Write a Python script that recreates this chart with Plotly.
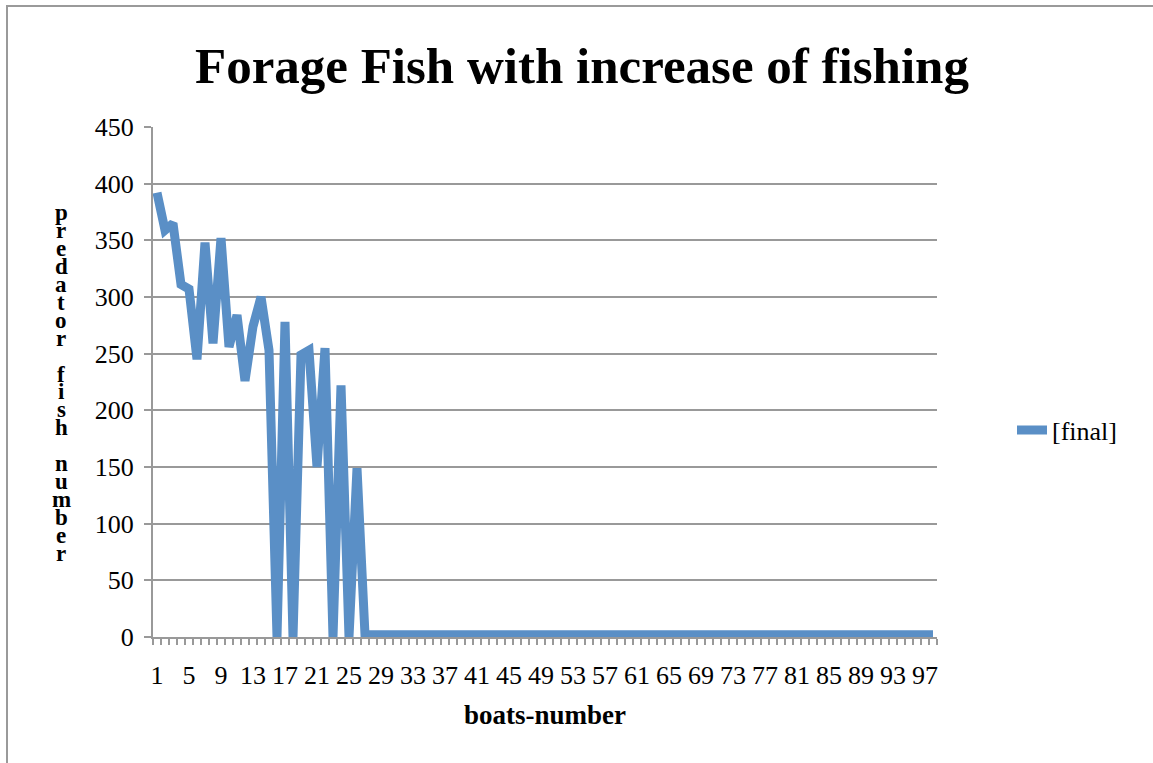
import plotly.graph_objects as go

# boats number (category index) and the final predator fish count for each run
boats = list(range(1, 99))
final_counts = [
    392, 359, 365, 311, 307, 245, 348, 259, 352, 256,
    284, 226, 274, 300, 253, 0, 278, 0, 249, 253,
    150, 255, 0, 222, 0, 149,
] + [2] * 72

x_tick_values = list(range(1, 99, 4))
x_tick_labels = [str(v) for v in x_tick_values]

y_title_text = "predator fish number"

SERIF = "Liberation Serif"
LINE_BLUE = "#5a8fc6"
GRID = "#999999"

fig = go.Figure()
fig.add_trace(go.Scatter(
    x=boats,
    y=final_counts,
    mode="lines",
    name="[final]",
    line=dict(color=LINE_BLUE, width=9, shape="linear"),
    hoverinfo="x+y",
))

W, H = 1153, 763
L, R, T, B = 153, 216, 127, 126
plot_w = W - L - R
plot_h = H - T - B


def px_to_paper_x(px):
    return (px - L) / plot_w


def px_to_paper_y(py):
    return (H - B - py) / plot_h


# vertical stacked-letter axis title
annotations = []
for k, ch in enumerate(y_title_text):
    if ch == " ":
        continue
    annotations.append(dict(
        text=f"<b>{ch}</b>", x=px_to_paper_x(61), y=px_to_paper_y(213 + k * 17.9),
        xref="paper", yref="paper", xanchor="center", yanchor="middle",
        showarrow=False, font=dict(family=SERIF, size=23, color="black"),
    ))

fig.update_layout(
    width=W, height=H,
    margin=dict(l=L, r=R, t=T, b=B, pad=0),
    paper_bgcolor="white",
    plot_bgcolor="white",
    title=dict(
        text="<b>Forage Fish with increase of fishing</b>",
        x=px_to_paper_x(582), xref="paper", xanchor="center",
        y=1 - 65 / H, yanchor="middle",
        font=dict(family=SERIF, size=51, color="black"),
    ),
    showlegend=True,
    legend=dict(
        x=px_to_paper_x(1012), y=px_to_paper_y(430),
        xanchor="left", yanchor="middle",
        font=dict(family=SERIF, size=26, color="black"),
        bgcolor="rgba(0,0,0,0)",
    ),
    annotations=annotations,
    shapes=[dict(
        type="rect", xref="paper", yref="paper",
        x0=px_to_paper_x(7), x1=px_to_paper_x(1170),
        y0=px_to_paper_y(790), y1=px_to_paper_y(6),
        line=dict(color="#9a9a9a", width=2), fillcolor="rgba(0,0,0,0)",
        layer="below",
    )],
)

fig.update_xaxes(
    range=[0.5, 98.5],
    tickmode="array", tickvals=x_tick_values, ticktext=x_tick_labels,
    ticks="",
    minor=dict(ticks="outside", tick0=0.5, dtick=1, ticklen=6,
               tickcolor=GRID, tickwidth=1.5, showgrid=False),
    showline=True, linecolor=GRID, linewidth=2,
    showgrid=False, zeroline=False,
    tickfont=dict(family=SERIF, size=26, color="black"),
    ticklabelstandoff=14,
    title=dict(text="<b>boats-number</b>", standoff=16,
               font=dict(family=SERIF, size=27, color="black")),
)

fig.update_yaxes(
    range=[0, 450], dtick=50, tick0=0,
    ticks="outside", ticklen=7, tickcolor=GRID, tickwidth=2,
    showline=True, linecolor=GRID, linewidth=2,
    showgrid=True, gridcolor=GRID, gridwidth=2,
    zeroline=False,
    tickfont=dict(family=SERIF, size=26, color="black"),
    ticklabelstandoff=5,
)

fig.write_html("out.html")
